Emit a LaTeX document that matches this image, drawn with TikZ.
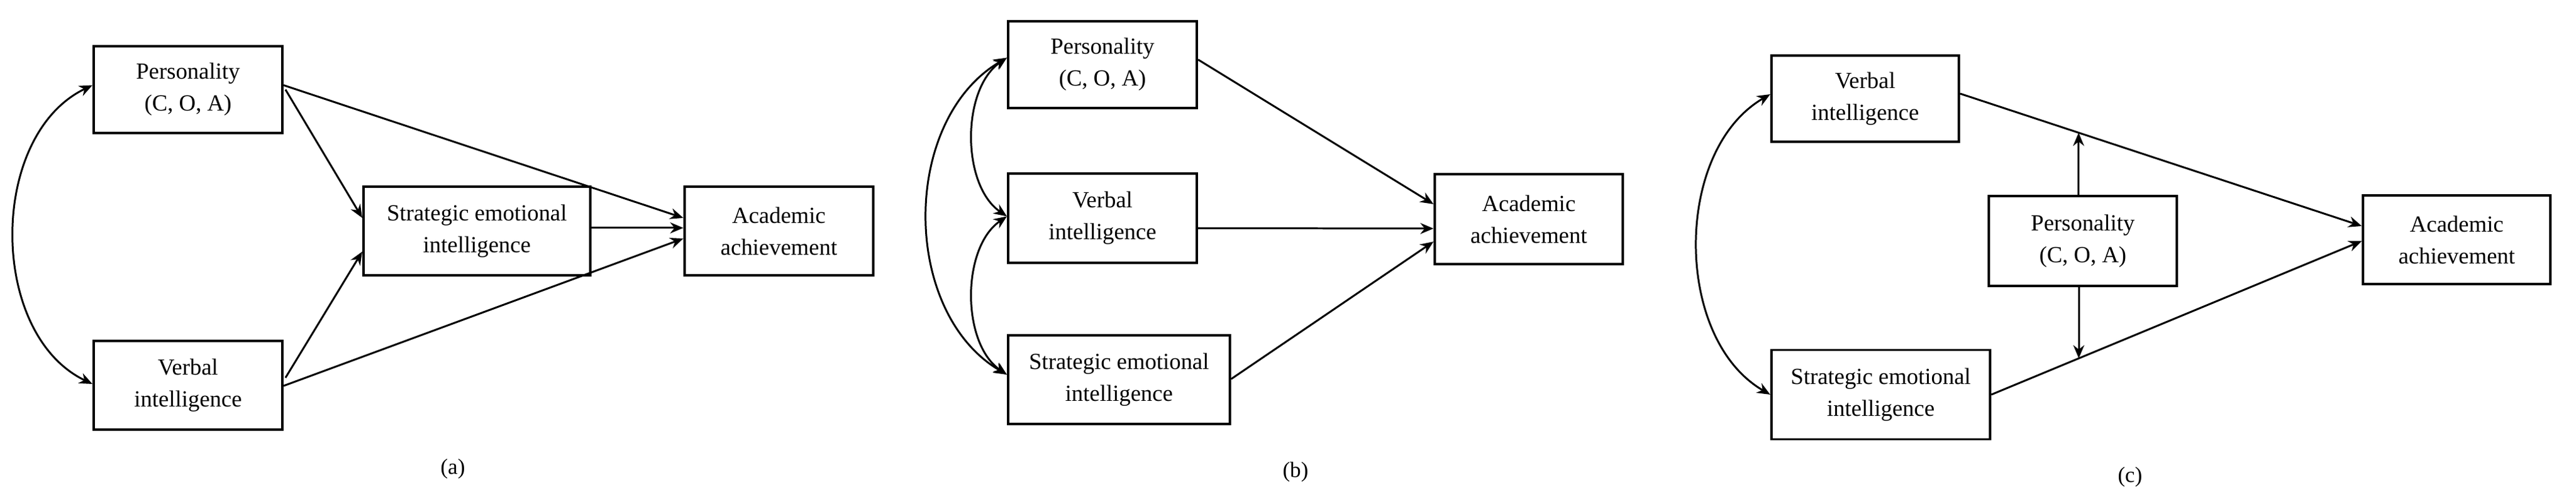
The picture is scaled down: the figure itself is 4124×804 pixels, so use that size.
\documentclass[tikz,border=0pt]{standalone}
\usepackage{fontspec}
\setmainfont{Liberation Serif}
\usetikzlibrary{arrows.meta, calc}
\tikzstyle{box} = [draw, line width=1.1pt, align=center, inner sep=0pt, font=\fontsize{10.5}{14.5}\selectfont]
\tikzstyle{arrow} = [line width=0.85pt,-{Stealth[length=6pt,width=5pt]}]
\tikzstyle{dblarrow} = [line width=0.85pt,{Stealth[length=6pt,width=5pt]}-{Stealth[length=6pt,width=5pt]}]

\begin{document}
\begin{tikzpicture}[x=0.01cm, y=-0.01cm]
        \useasboundingbox (0,0) rectangle (4124,804);

        % (a) boxes
        \node at (301,143.5) [box, minimum width=3.02cm, minimum height=1.39cm] (pa) {Personality\\(C, O, A)};
        \node at (301,617) [box, minimum width=3.02cm, minimum height=1.42cm] (va) {Verbal\\intelligence};
        \node at (763.5,370) [box, minimum width=3.63cm, minimum height=1.42cm] (sa) {Strategic emotional\\intelligence};
        \node at (1247,370) [box, minimum width=3.02cm, minimum height=1.42cm] (aa) {Academic\\achievement};
        \node at (725,751) (la) {(a)};

        % (a) paths
        \draw [arrow] ($(pa.east)+(0,-7)$) -- ($(aa.west)+(0,-21)$);
        \draw [arrow] ($(pa.east)+(3,0)$) -- ($(sa.west)+(0,-21)$);
        \draw [arrow] ($(sa.east)+(0,-5)$) -- ($(aa.west)+(0,-5)$);
        \draw [arrow] ($(va.east)+(0,1)$) -- ($(aa.west)+(0,12)$);
        \draw [arrow] ($(va.east)+(3,-12)$) -- ($(sa.west)+(0,33)$);
        \draw [dblarrow] ($(pa.west)+(0,-7)$) .. controls +(-167,80) and +(-167,-80) .. ($(va.west)+(0,-2)$);

        % (b) boxes
        \node at (1765,103.5) [box, minimum width=3.02cm, minimum height=1.39cm] (pb) {Personality\\(C, O, A)};
        \node at (1765,349.5) [box, minimum width=3.02cm, minimum height=1.43cm] (vb) {Verbal\\intelligence};
        \node at (1791.5,608) [box, minimum width=3.55cm, minimum height=1.42cm] (sb) {Strategic emotional\\intelligence};
        \node at (2447.5,351) [box, minimum width=3.01cm, minimum height=1.44cm] (ab) {Academic\\achievement};
        \node at (2074,756) (lb) {(b)};

        % (b) paths
        \draw [arrow] ($(pb.east)+(0,-8)$) -- ($(ab.west)+(0,-24)$);
        \draw [arrow] ($(vb.east)+(0,16)$) -- ($(ab.west)+(0,15)$);
        \draw [arrow] ($(sb.east)+(0,-1)$) -- ($(ab.west)+(0,36)$);
        \draw [dblarrow] ($(pb.west)+(0,-11)$) .. controls +(-73,50) and +(-73,-50) .. ($(vb.west)+(0,-3)$);
        \draw [dblarrow] ($(vb.west)+(0,-3)$) .. controls +(-73,50) and +(-73,-50) .. ($(sb.west)+(0,-8)$);
        \draw [dblarrow] ($(pb.west)+(0,-11)$) .. controls +(-170,100) and +(-170,-100) .. ($(sb.west)+(0,-8)$);

        % (c) boxes
        \node at (2986,158) [box, minimum width=3.00cm, minimum height=1.38cm] (vc) {Verbal\\intelligence};
        \node at (3011,632) [box, minimum width=3.50cm, minimum height=1.43cm] (sc) {Strategic emotional\\intelligence};
        \node at (3334.5,386) [box, minimum width=3.01cm, minimum height=1.44cm] (pc) {Personality\\(C, O, A)};
        \node at (3933,384) [box, minimum width=3.00cm, minimum height=1.42cm] (ac) {Academic\\achievement};
        \node at (3410,764) (lc) {(c)};

        % (c) paths
        \draw [arrow] ($(vc.east)+(0,-8)$) -- coordinate[pos=0.295] (m1) ($(ac.west)+(0,-22)$);
        \draw [arrow] (sc.east) -- coordinate[pos=0.236] (m2) ($(ac.west)+(0,2)$);
        \draw [arrow] (pc.north -| m1) -- (m1);
        \draw [arrow] (pc.south -| m2) -- (m2);
        \draw [dblarrow] ($(vc.west)+(0,-7)$) .. controls +(-155,90) and +(-155,-90) .. (sc.west);

    \end{tikzpicture}
\end{document}
